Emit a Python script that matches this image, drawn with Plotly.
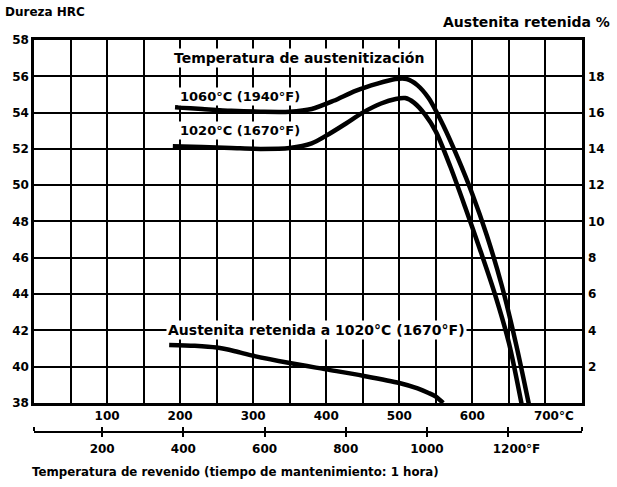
import plotly.graph_objects as go

# ---------------- data ----------------
c_range = [0, 750]                      # tempering temperature, deg C
hrc_range = [38, 58]                    # hardness HRC (left axis)
ra_range = [0, 20]                      # retained austenite % (right axis)
f_range = [c * 9 / 5 + 32 for c in c_range]

c_tickvals = [100, 200, 300, 400, 500, 600, 700]
c_ticktext = ["100", "200", "300", "400", "500", "600", "\u2007\u2007700°C"]
f_tickvals = [f_range[0], 200, 400, 600, 800, 1000, 1200, f_range[1]]
f_ticktext = ["", "200", "400", "600", "800", "1000", "\u2007\u20071200°F", ""]
hrc_ticks = [38, 40, 42, 44, 46, 48, 50, 52, 54, 56, 58]
ra_ticks = [2, 4, 6, 8, 10, 12, 14, 16, 18]

# hardness after austenitizing at 1060 C (1940 F)
temp_1060 = [193, 230, 270, 310, 350, 380, 410, 440, 470, 495, 510, 525, 540,
             560, 580, 600, 620, 640, 660, 678]
hrc_1060 = [54.3, 54.2, 54.1, 54.05, 54.05, 54.2, 54.65, 55.2, 55.6, 55.85, 55.85,
            55.5, 54.8, 53.3, 51.5, 49.5, 47.2, 44.5, 41.2, 37.8]

# hardness after austenitizing at 1020 C (1870 F)
temp_1020 = [190, 230, 270, 310, 350, 380, 405, 427, 450, 475, 495, 508, 520,
             535, 550, 570, 590, 610, 630, 650, 668]
hrc_1020 = [52.15, 52.1, 52.05, 52.0, 52.05, 52.3, 52.85, 53.4, 54.0, 54.5, 54.75,
            54.8, 54.55, 53.9, 52.95, 51.0, 48.8, 46.5, 44.1, 41.3, 37.8]

# retained austenite after austenitizing at 1020 C
temp_ra = [185, 220, 250, 275, 300, 350, 400, 450, 500, 525, 540, 550, 560]
ra_1020 = [3.2, 3.15, 3.05, 2.85, 2.6, 2.2, 1.85, 1.5, 1.1, 0.8, 0.55, 0.35, 0.0]

FONT = "DejaVu Sans"
LINE_W = 4.5
GRID_W = 1.6

fig = go.Figure()
for xs, ys, ax in [(temp_1060, hrc_1060, "y"), (temp_1020, hrc_1020, "y"), (temp_ra, ra_1020, "y2")]:
    fig.add_trace(go.Scatter(x=xs, y=ys, mode="lines", yaxis=ax,
                             line=dict(color="black", width=LINE_W, shape="spline", smoothing=0.8),
                             hoverinfo="skip"))
# helper (invisible) trace so the Fahrenheit scale is drawn
fig.add_trace(go.Scatter(x=f_range, y=hrc_range, xaxis="x2", mode="markers",
                         marker=dict(opacity=0), hoverinfo="skip"))

Y0 = 0.15
fig.update_layout(
    width=617, height=487,
    margin=dict(l=31, r=35, t=40, b=20),
    paper_bgcolor="white", plot_bgcolor="white",
    showlegend=False,
    font=dict(family=FONT, size=12, color="black", weight="bold"),
    xaxis=dict(range=c_range, domain=[0, 1], anchor="y",
               tickmode="array", tickvals=c_tickvals, ticktext=c_ticktext,
               ticks="", showgrid=True, gridcolor="black", gridwidth=GRID_W,
               minor=dict(tickmode="linear", tick0=0, dtick=50, showgrid=True,
                          gridcolor="black", gridwidth=GRID_W),
               showline=True, linecolor="black", linewidth=2.5, mirror=True,
               zeroline=False, tickfont=dict(size=12)),
    xaxis2=dict(range=f_range, overlaying="x", anchor="free", position=0.082,
                side="bottom", tickmode="array", tickvals=f_tickvals, ticktext=f_ticktext,
                ticks="outside", ticklen=4, tickwidth=1.5, tickcolor="black",
                minor=dict(tickmode="array", tickvals=f_tickvals, ticks="inside",
                           ticklen=4, tickwidth=1.5, tickcolor="black", showgrid=False),
                showgrid=False, showline=True, linecolor="black", linewidth=1.5,
                zeroline=False, tickfont=dict(size=12), ticklabelstandoff=2),
    yaxis=dict(range=hrc_range, domain=[Y0, 1], anchor="x",
               tickmode="array", tickvals=hrc_ticks, ticks="",
               showgrid=True, gridcolor="black", gridwidth=GRID_W,
               showline=True, linecolor="black", linewidth=2.5, mirror=True,
               zeroline=False, tickfont=dict(size=12)),
    yaxis2=dict(range=ra_range, overlaying="y", side="right", anchor="x",
                tickmode="array", tickvals=ra_ticks, ticks="", showgrid=False,
                showline=False, zeroline=False, tickfont=dict(size=12),
                ticklabelstandoff=5),
)

ann_font = dict(family=FONT, size=13, color="black", weight="bold")
fig.add_annotation(x=362, y=57.0, xref="x", yref="y", text="Temperatura de austenitización",
                   showarrow=False, xanchor="center", yanchor="middle", bgcolor="white",
                   borderpad=1, font=dict(ann_font, size=14))
fig.add_annotation(x=197, y=54.9, xref="x", yref="y", text="1060°C (1940°F)",
                   showarrow=False, xanchor="left", yanchor="middle", bgcolor="white",
                   borderpad=1, font=ann_font)
fig.add_annotation(x=197, y=53.0, xref="x", yref="y", text="1020°C (1670°F)",
                   showarrow=False, xanchor="left", yanchor="middle", bgcolor="white",
                   borderpad=1, font=ann_font)
fig.add_annotation(x=180, y=4.0, xref="x", yref="y2", text="Austenita retenida a 1020°C (1670°F)",
                   showarrow=False, xanchor="left", yanchor="middle", bgcolor="white",
                   borderpad=1, font=dict(ann_font, size=14))
fig.add_annotation(x=-0.056, y=1.066, xref="paper", yref="paper", text="Dureza HRC",
                   showarrow=False, xanchor="left", yanchor="middle", font=dict(ann_font, size=12))
fig.add_annotation(x=1.054, y=1.042, xref="paper", yref="paper", text="Austenita retenida %",
                   showarrow=False, xanchor="right", yanchor="middle", font=dict(ann_font, size=14))
fig.add_annotation(x=-0.008, y=-0.012, xref="paper", yref="paper",
                   text="Temperatura de revenido (tiempo de mantenimiento: 1 hora)",
                   showarrow=False, xanchor="left", yanchor="middle", font=dict(ann_font, size=11.8))

fig.write_html("out.html")
